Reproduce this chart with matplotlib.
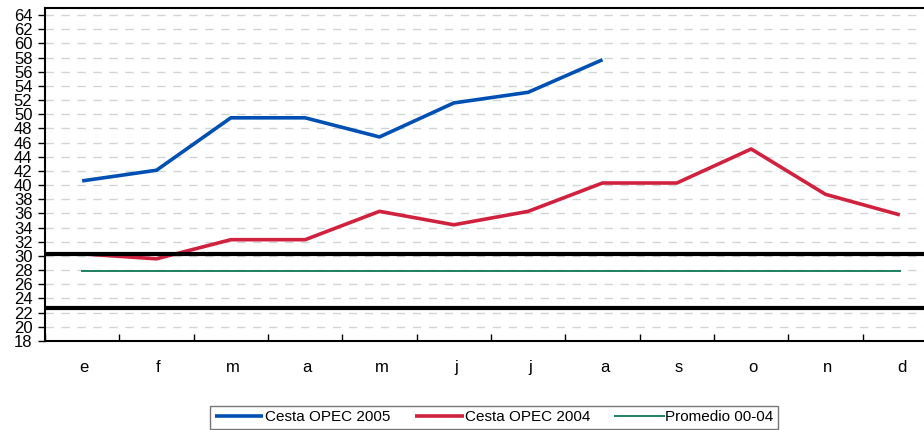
import matplotlib
matplotlib.use("Agg")
import matplotlib.pyplot as plt
import matplotlib.transforms as mtransforms
from matplotlib.ticker import FixedLocator, NullFormatter

plt.rcParams['font.family'] = ['Liberation Sans', 'DejaVu Sans']

months = ['e', 'f', 'm', 'a', 'm', 'j', 'j', 'a', 's', 'o', 'n', 'd']
opec_2005 = [40.6, 42.1, 49.5, 49.5, 46.8, 51.6, 53.1, 57.7]
opec_2004 = [30.3, 29.6, 32.3, 32.3, 36.3, 34.4, 36.3, 40.3, 40.3, 45.1, 38.7, 35.8]
promedio = [27.9] * 12
band_upper = 30.3
band_lower = 22.6
yticks = list(range(18, 65, 2))

fig = plt.figure(figsize=(9.24, 4.30), dpi=100)
ax = fig.add_axes([45/924, 1 - 341/430, 892/924, 333/430])

x = list(range(len(months)))
ax.plot(x[:len(opec_2005)], opec_2005, color='#0050B4', lw=2.6, label='Cesta OPEC 2005', solid_capstyle='butt')
ax.plot(x, opec_2004, color='#D0213E', lw=2.6, label='Cesta OPEC 2004', solid_capstyle='butt')
ax.plot(x, promedio, color='#1E8060', lw=1.4, label='Promedio 00-04')
ax.axhline(band_upper, color='black', lw=3)
ax.axhline(band_lower, color='black', lw=3)

ax.set_xlim(-0.5, len(months) - 0.5)
ax.set_ylim(18, 65)
ax.yaxis.set_major_locator(FixedLocator(yticks))
ax.tick_params(axis='y', labelsize=12, length=5, width=1, pad=4)
ax.set_xticks(x)
ax.set_xticklabels(months)
ax.xaxis.set_minor_locator(FixedLocator([i - 0.5 for i in range(13)]))
ax.xaxis.set_minor_formatter(NullFormatter())
ax.tick_params(axis='x', which='major', length=0, labelsize=12, pad=14)
ax.tick_params(axis='x', which='minor', length=5, width=1, direction='in')
offset = mtransforms.ScaledTranslation(2/100, 0, fig.dpi_scale_trans)
for lbl in ax.get_xticklabels():
    lbl.set_transform(lbl.get_transform() + offset)
ax.grid(axis='y', color='#D0D6D6', linestyle=(0, (6, 5.5)), lw=1.0)
ax.set_axisbelow(True)
for s in ['left', 'bottom', 'top']:
    ax.spines[s].set_linewidth(1.5)
ax.spines['right'].set_visible(False)

leg = fig.legend(loc='lower left', bbox_to_anchor=(210/924, 1/430, 568/924, 27/430), ncol=3,
                 mode='expand', frameon=True, fancybox=False, edgecolor='#555555',
                 fontsize=11, handlelength=3.2, handletextpad=0.1, borderpad=0.3,
                 borderaxespad=0, columnspacing=0.6)
leg.get_frame().set_linewidth(1)

fig.savefig('out.png', dpi=100)
